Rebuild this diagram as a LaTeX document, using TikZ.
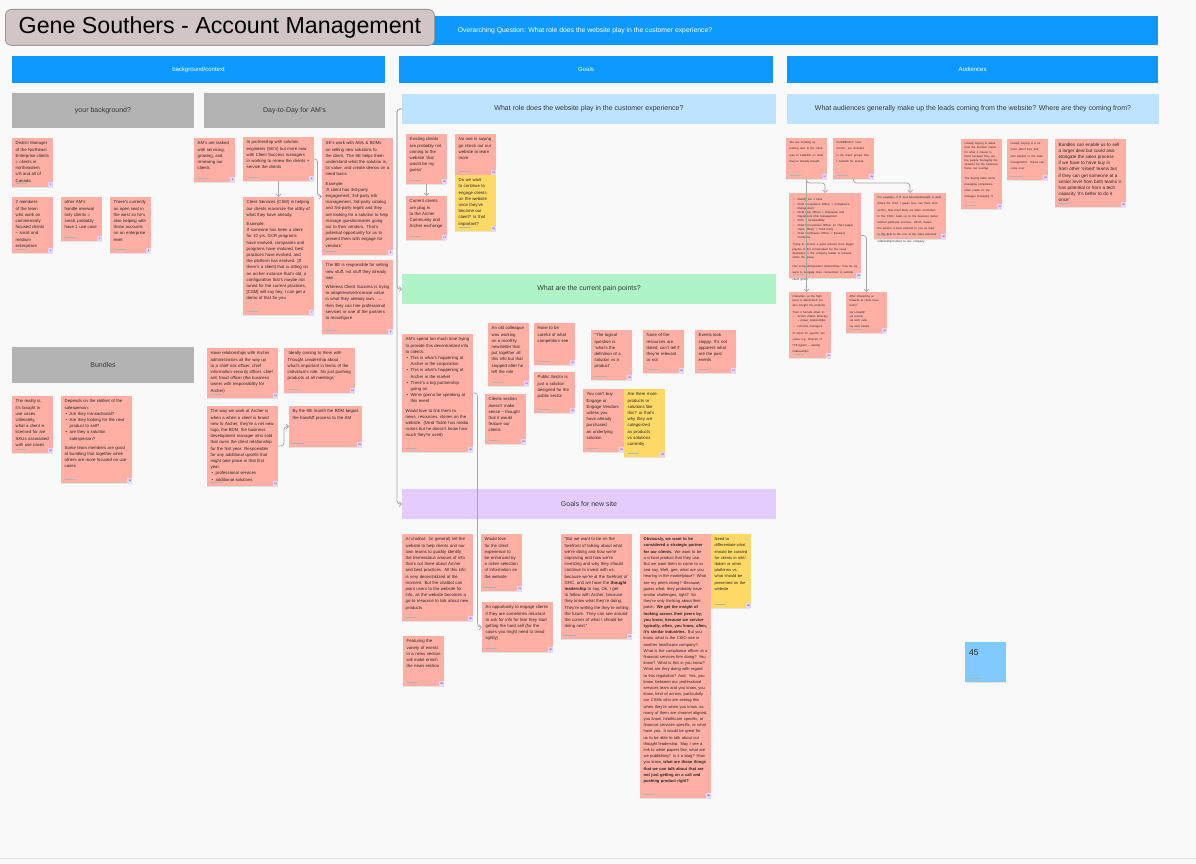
\documentclass[tikz,border=0pt]{standalone}
\usepackage{fontspec}
\setmainfont{Liberation Sans}
\usetikzlibrary{arrows.meta,shadows}
\definecolor{bgc}{HTML}{F9F9F9}
\definecolor{figblue}{HTML}{0D99FF}
\definecolor{lblue}{HTML}{BDE3FF}
\definecolor{lgreen}{HTML}{AFF4C6}
\definecolor{lpurple}{HTML}{E4CCFF}
\definecolor{hgray}{HTML}{B3B3B3}
\definecolor{salmon}{HTML}{FFAFA3}
\definecolor{yel}{HTML}{FFD966}
\definecolor{skyblue}{HTML}{80CAFF}
\definecolor{titlefill}{HTML}{D1C5C5}
\definecolor{titleline}{HTML}{A09696}
\definecolor{badgec}{HTML}{E2D4FF}
\newcounter{stkno}
\newcommand{\bi}{\par\hangindent=5pt\hangafter=1\noindent\makebox[5pt][l]{\hspace{0.8pt}\textbullet}}
\newcommand{\gap}{\par\vspace{3pt}}
\newcommand{\nohy}{\hyphenpenalty=10000\exhyphenpenalty=10000}
\newcommand{\stk}[7]{%
  \node[stickybox, fill=#6, minimum width=#4pt, minimum height=#5pt] (#1) at (#2,#3) {};
  \pgfmathsetlengthmacro{\stktw}{#4pt-7pt}%
  \node[stickytext, text width=\stktw] at ([xshift=3.5pt,yshift=-3.5pt]#1.north west) {#7};
  \stepcounter{stkno}%
  \node[badge] at ([xshift=-2.3pt,yshift=2.3pt]#1.south east) {\arabic{stkno}};
  \draw[authorline] ([xshift=3.5pt,yshift=4pt]#1.south west) -- ++(11pt,0);
}
\tikzset{
  stickybox/.style={anchor=north west, inner sep=0, outer sep=0, draw=none,
    drop shadow={opacity=0.18, shadow xshift=0.3pt, shadow yshift=-0.7pt}},
  stickytext/.style={anchor=north west, inner sep=0, align=left, text=black!85,
    font=\fontsize{4.3}{6.2}\selectfont\nohy},
  badge/.style={fill=badgec, inner sep=0, minimum size=4.6pt, text=violet!70!black,
    font=\fontsize{2.3}{2.5}\selectfont},
  authorline/.style={draw=black!30, line width=0.9pt},
  hdr/.style={anchor=north west, inner sep=0, outer sep=0, draw=none, text=black!78,
    font=\fontsize{7}{8}\selectfont},
  colhdr/.style={anchor=north west, inner sep=0, outer sep=0, fill=figblue, text=white,
    font=\fontsize{6}{7}\selectfont},
  conn/.style={draw=black!35, line width=0.7pt, rounded corners=3pt,
    -{Straight Barb[length=2.5pt,width=5pt]}},
}
\begin{document}
\begin{tikzpicture}[x=1pt,y=-1pt]
\useasboundingbox (0,0) rectangle (1196,864);
\fill[bgc] (0,0) rectangle (1196,864);
\draw[black!10, line width=0.8pt] (0,858) -- (1196,858);

% top bar and title
\node[colhdr, minimum width=1146pt, minimum height=29pt] (topbar) at (12,16)
  {\fontsize{6.8}{8}\selectfont Overarching Question: What role does the website play in the customer experience?};
\node[anchor=north west, minimum width=429pt, minimum height=36pt, inner sep=0,
  fill=titlefill, draw=titleline, line width=0.8pt, rounded corners=6pt,
  font=\fontsize{23.2}{26}\selectfont, text=black] (title) at (5,9) {Gene Southers - Account Management};

% column headers
\node[colhdr, minimum width=373pt, minimum height=27pt] (colbg) at (12,56) {background/context};
\node[colhdr, minimum width=374pt, minimum height=27pt] (colgoals) at (399,56) {Goals};
\node[colhdr, minimum width=371pt, minimum height=27pt] (colaud) at (787,56) {Audiences};

% section headers
\node[hdr, fill=hgray, minimum width=182pt, minimum height=35pt] (hbg) at (12,93) {your background?};
\node[hdr, fill=hgray, minimum width=181pt, minimum height=35pt] (hday) at (204,93) {Day-to-Day for AM's};
\node[hdr, fill=hgray, minimum width=182pt, minimum height=36pt] (hbund) at (12,347) {Bundles};
\node[hdr, fill=lblue, minimum width=374pt, minimum height=30pt] (q1) at (402,94) {What role does the website play in the customer experience?};
\node[hdr, fill=lblue, minimum width=372pt, minimum height=30pt] (qaud) at (787,94) {What audiences generally make up the leads coming from the website? Where are they coming from?};
\node[hdr, fill=lgreen, minimum width=374pt, minimum height=30pt] (q2) at (402,274) {What are the current pain points?};
\node[hdr, fill=lpurple, minimum width=374pt, minimum height=30pt] (q3) at (402,489) {Goals for new site};

% your background
\stk{s1}{12}{138}{41}{49}{salmon}{District Manager of the Northeast Enterprise clients = clients in northeastern US and all of Canada}
\stk{s2}{12}{197}{41}{56}{salmon}{2 members of the team who work on commercially focused clients -- small and medium enterprises}
\stk{s3}{61}{197}{41}{44}{salmon}{other AM's handle renewal only clients = small, probably have 1 use case}
\stk{s4}{110}{197}{41}{56}{salmon}{There's currently an open seat in the west so he's also helping with those accounts on an enterprise level}

% day to day
\stk{s5}{194}{138}{41}{44}{salmon}{AM's are tasked with servicing, growing, and renewing our clients}
\stk{s6}{243}{137}{71}{44}{salmon}{In partnership with solution engineers (SE's) but more now with Client Success managers in working to renew the clients + service the clients}
\stk{s7}{243}{197}{71}{118}{salmon}{Client Services (CSM) is helping our clients maximize the utility of what they have already.\gap Example:\par If someone has been a client for 10 yrs, GCR programs have evolved, companies and programs have matured, best practices have evolved, and the platform has evolved. [If there's a client] that is sitting on an archer instance that's old, a configuration that's maybe not tuned for the current practices, [CSM] will say hey, I can get a demo of that for you}
\stk{s8}{322}{138}{71}{117}{salmon}{SE's work with AMs \& BDMs on selling new solutions to the client. The SE helps them understand what the solution is, its value, and create demos on a need basis.\gap Example:\par 'A client has 3rd-party engagement, 3rd-party risk management, 3rd-party catalog and 3rd-party regmt and they are looking for a solution to help manage questionnaires going out to their vendors. That's potential opportunity for us to present them with engage for vendors'}
\stk{s9}{322}{260}{71}{74}{salmon}{The BE is responsible for selling new stuff, not stuff they already own.\gap Whereas Client Success is trying to adapt/evolve/increase value in what they already own. → then they can hire professional services or one of the partners to reconfigure}

% bundles
\stk{s10}{12}{396}{41}{57}{salmon}{The reality is, it's bought in use cases. Ultimately, what a client is licensed for are SKUs associated with use cases}
\stk{s11}{61}{396}{71}{87}{salmon}{Depends on the skillset of the salesperson:\bi Are they transactional?\bi Are they looking for the next product to sell?\bi are they a solution salesperson?\gap Some team members are good at bundling that together while others are more focused on use cases}
\stk{s12}{207}{348}{71}{50}{salmon}{Have relationships with Archer administrators all the way up to a chief risk officer, chief information security officer, chief anti fraud officer (the business owner with responsibility for Archer)}
\stk{s13}{284}{348}{71}{45}{salmon}{'Ideally coming to them with Thought Leadership about what's important in terms of the individual's role. No just pushing products at all meetings'}
\stk{s14}{207}{406}{71}{80}{salmon}{The way we work at Archer is when a when a client is brand new to Archer, they're a net new logo, the BDM, the business development manager who sold that owns the client relationship for the first year. Responsible for any additional upsells that might take place in that first year:\bi professional services\bi additional solutions}
\stk{s15}{289}{406}{73}{41}{salmon}{By the 9th month the BDM begins the handoff process to the AM}

% goals: role of website
\stk{s16}{406}{134}{41}{50}{salmon}{Existing clients are probably not coming to the website 'that would be my guess'}
\stk{s17}{406}{196}{41}{44}{salmon}{Current clients are plug in to the Archer Community and Archer exchange}
\stk{s18}{455}{134}{41}{41}{salmon}{No one is saying go check out our website to learn more}
\stk{s19}{455}{175}{41}{56}{yel}{Do we want to continue to engage clients on the website once they've become our client? Is that important?}

% pain points
\stk{s20}{402}{334}{71}{118}{salmon}{AM's spend too much time trying to provide this decentralized info to clients:\bi This is what's happening at Archer in the corporation\bi This is what's happening at Archer in the market\bi There's a big partnership going on\bi We're gonna be speaking at this event\gap Would love to link them to news, resources, stories on the website. (Mind Tickle has media rooms but he doesn't know how much they're used)}
\stk{s21}{488}{323}{41}{63}{salmon}{An old colleague was working on a monthly newsletter that put together all this info but that stopped after he left the role}
\stk{s22}{534}{323}{41}{42}{salmon}{Have to be careful of what competitors see}
\stk{s23}{534}{372}{41}{41}{salmon}{Public Sector is just a solution designed for the public sector}
\stk{s24}{485}{394}{41}{50}{salmon}{Clients section doesn't make sense -- thought that it would feature our clients}
\stk{s25}{591}{330}{41}{50}{salmon}{"The logical question is 'what's the definition of a solution vs a product'}
\stk{s26}{643}{330}{41}{43}{salmon}{None of the resources are dated, can't tell if they're relevant or not}
\stk{s27}{695}{330}{41}{43}{salmon}{Events look sloppy. It's not apparent what are the past events}
\stk{s28}{583}{389}{41}{63}{salmon}{You can't buy Engage or Engage Vendors unless you have already purchased an underlying solution}
\stk{s29}{624}{389}{41}{68}{yel}{Are there more products or solutions like this? or that's why they are categorized as products vs solutions currently}

% goals for new site
\stk{s30}{402}{534}{71}{87}{salmon}{AI chatbot: (in general) tell the website to help clients and our own teams to quickly identify the tremendous amount of info that's out there about Archer and best practices. All this info is very decentralized at the moment. But the chatbot can point users to the website for info, as the website becomes a go-to resource to talk about new products}
\stk{s31}{481}{534}{41}{57}{salmon}{Would love for the client experience to be enhanced by a richer selection of information on the website}
\stk{s32}{403}{636}{41}{50}{salmon}{Featuring the variety of events in a news section will make enrich the news section}
\stk{s33}{482}{602}{71}{50}{salmon}{An opportunity to engage clients if they are sometimes reluctant to ask for info for fear they start getting the hard sell (for the cases you might need to tread lightly)}
\stk{s34}{561}{534}{71}{105}{salmon}{"But we want to be on the forefront of talking about what we're doing and how we're improving and how we're investing and why they should continue to invest with us, because we're at the forefront of GRC, and we have the \textbf{thought leadership} to say, Ok, I get to follow with Archer, because they know what they're doing. They're writing the they're writing the future. They can see around the corner of what I should be doing next."}
\stk{s35}{640}{534}{71}{264}{salmon}{\fontsize{4.05}{5.95}\selectfont\textbf{Obviously, we want to be considered a strategic partner for our clients.} We want to be a critical product that they use. But we want them to come to us and say, Well, gee, what are you hearing in the marketplace? What are my peers doing? Because, guess what, they probably have similar challenges, right? So they're only thinking about their patch. \textbf{We get the insight of looking across their peers by, you know, because we service typically, often, you know, often, it's similar industries.} But you know, what is the CISO see in another healthcare company? What is the compliance officer at a financial services firm doing? You know? What is this in you know? What are they doing with regard to this regulation? And. Yes, you know, between our professional services team and you know, you know, kind of across, particularly our CSMs who are seeing this when they're when you know, as many of them are channel aligned, you know, healthcare specific, or financial services specific, or what have you. It would be great for us to be able to talk about our thought leadership. May I see a link to white papers like, what are we publishing? Is it a blog? How you know, \textbf{what are those things that we can talk about that are not just getting on a call and pushing product right?}}
\stk{s36}{711}{534}{40}{74}{yel}{\fontsize{4}{6}\selectfont Need to differentiate what should be curated for clients in mkt/ tbdom or other platforms vs. what should be presented on the website}

% audiences
\stk{s37}{786}{138}{41}{41}{salmon}{\fontsize{2.8}{4.2}\selectfont We are trending up looking start to the client type to establish on what they've already bought}
\stk{s38}{833}{138}{41}{41}{salmon}{\fontsize{2.8}{4.2}\selectfont CURRENTLY: User Comm. are included in the major groups that I network for annual.}
\stk{s39}{789}{193}{72}{85}{salmon}{\fontsize{2.8}{4.2}\selectfont \bi Identify tier 1 titles\bi Chief Compliance Officer = Compliance Management\bi Chief Risk Officer = Enterprise and Operational Risk Management\bi CFO = Sustainability\bi Chief Procurement Officer (or chief supply chain officer) = Third Party\bi Chief Continuous Officer = Business Continuity\gap Trying to connect a good amount more bigger players to the conversation for the usual illustration to the company leader to network within the group.\gap Use ecosystem/product relationships: how do we want to navigate more connections to website client group}
\stk{s40}{874}{193}{72}{46}{salmon}{\fontsize{2.8}{4.2}\selectfont For example, if IT and Security/Infosight is what drives the chief, I guess how, see them from Archer, how most likely we have connection to the CISO. Grab up on the business owner without particular success. Which means the person is best element to you as lead in the deal to the one of the sales potential relationship/contact to one company}
\stk{s41}{789}{292}{42}{66}{salmon}{\fontsize{2.8}{4.2}\selectfont Interaction at the high level is determined (so who bought the product).\gap Then it funnels down to:\bi Archer Admin (directly) -- power relationships\bi Line/unit managers of areas for specific use cases e.g. Director of IT/Program -- owning relationships}
\stk{s42}{846}{292}{41}{41}{salmon}{\fontsize{2.8}{4.2}\selectfont After interacting at towards at client level terms:\gap via LinkedIn\par via events\par via web calls\par via web emails}
\stk{s43}{961}{139}{41}{70}{salmon}{\fontsize{2.8}{4.2}\selectfont Usually buying is about trust the decision maker for what it means to them because they are the people managing the systems for the business; these can overlap.\gap The buying team tends managing compliance often reside on the manager managing IT}
\stk{s44}{1007}{139}{41}{41}{salmon}{\fontsize{2.8}{4.2}\selectfont Usually buying is a lot more about trust and with relation to the team management. Teams can cross over.}
\stk{s45}{1055}{139}{71}{68}{salmon}{\fontsize{4.6}{7.6}\selectfont Bundles can enable us to sell a larger deal but could also elongate the sales process if we have to have buy in from other 'siloed' teams but if they can get someone at a senior level from both teams it has potential or from a tech capacity 'it's better to do it once'}

% blue count sticky
\node[stickybox, fill=skyblue, minimum width=41pt, minimum height=40pt] (cnt) at (965,642) {};
\node[anchor=north west, inner sep=0, font=\fontsize{8.5}{9}\selectfont, text=black!85] at ([xshift=4pt,yshift=-7pt]cnt.north west) {45};
\draw[authorline] ([xshift=3.5pt,yshift=4pt]cnt.south west) -- ++(11pt,0);

% connectors
\draw[conn] (s6.south) -- (s7.north);
\draw[conn] (s6.east) -- ++(3.5,0) |- (s8.west);
\draw[conn] (s14.east) -- ++(6,0) |- (s15.west);
\draw[conn] (s16.south) -- (s17.north);
\draw[conn] (q1.west) -- ++(-5,0) |- (q2.west);
\draw[conn] (q1.west) -- ++(-5,0) |- (q3.west);
\draw[conn] (s20.east) -- ++(4.5,0) |- (s33.west);
\draw[conn] (s37.south) -- ++(0,4) -| (s39.north);
\draw[conn] (s37.south) -- (s37.south |- s41.north);
\draw[conn] (s38.south) -- ++(0,4) -| (s40.north);
\draw[conn] (s39.east) -| (s42.north);
\end{tikzpicture}
\end{document}
